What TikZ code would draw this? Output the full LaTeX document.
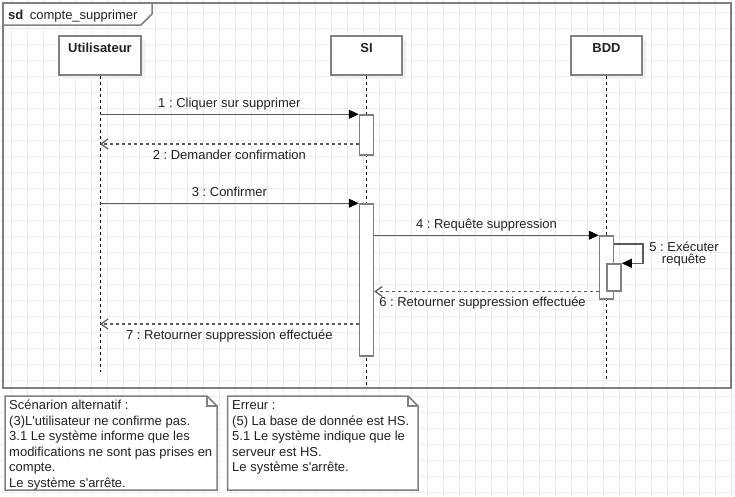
\documentclass[tikz,border=0pt]{standalone}
\usepackage{fontspec}
\setmainfont{Liberation Sans}[Ligatures=TeXOff]
\usetikzlibrary{arrows.meta,shadows}
\definecolor{gridgray}{HTML}{EDEDED}
\definecolor{linegray}{HTML}{808080}
\definecolor{msggray}{HTML}{5A5A5A}
\definecolor{txt}{HTML}{222222}
\newcommand{\diagfont}{\fontsize{13}{15.5}\selectfont\frenchspacing}
\tikzset{
  headbox/.style={draw=linegray, line width=1.5pt, fill=white, minimum width=#1, minimum height=39pt, inner sep=0pt,
    drop shadow={shadow xshift=4pt, shadow yshift=-4pt, fill=black!6, opacity=1}},
  headtext/.style={below=7.5pt, inner sep=0pt, text height=9.3pt, text depth=0pt, font=\diagfont\bfseries, text=txt},
  actbox/.style={draw=linegray, line width=1.5pt, fill=white, minimum width=14pt, minimum height=#1, inner sep=0pt},
  life/.style={draw=black, line width=0.8pt, dash pattern=on 3pt off 3pt},
  call/.style={draw=msggray, line width=1.3pt, -{Triangle[length=10pt,width=9pt,color=black]}},
  back/.style={draw=msggray, line width=1.2pt, dash pattern=on 3pt off 3pt, -{Straight Barb[length=7pt,width=10pt]}},
  lblabove/.style={above=6pt, inner sep=0pt, text height=9.3pt, text depth=0pt, text=txt},
  lblbelow/.style={below=5.5pt, inner sep=0pt, text height=9.3pt, text depth=0pt, text=txt},
  notebox/.style={draw=linegray, line width=1.5pt, fill=white},
  notetext/.style={anchor=north west, inner sep=0pt, align=left, text=txt},
  gridline/.style={draw=gridgray, line width=1pt}
}

\begin{document}
\begin{tikzpicture}[x=1pt, y=-1pt, font=\diagfont]
\useasboundingbox[fill=white] (0,0) rectangle (735,496);
% Grid
\foreach \gx in {11,27,...,731} \draw[gridline] (\gx,0) -- (\gx,496);
\foreach \gy in {12,28,...,492} \draw[gridline] (0,\gy) -- (735,\gy);

% Frame
\draw[draw=linegray, line width=1.5pt] (3,3) rectangle (731,388);
\draw[draw=linegray, line width=1.5pt, fill=white] (3,3) -- (152,3) -- (152,14) -- (141,25) -- (3,25) -- cycle;
\node[anchor=base west, inner sep=0pt, text=txt] (sdtitle) at (8,19.6) {\textbf{sd}\enspace compte\_supprimer};

% Lifelines
\node[headbox=82pt] (user) at (100,55.5) {};
\node[headbox=71pt] (si) at (366.5,55.5) {};
\node[headbox=71pt] (bdd) at (606.5,55.5) {};
\node[headtext] (usertxt) at (user.north) {Utilisateur};
\node[headtext] (sitxt) at (si.north) {SI};
\node[headtext] (bddtxt) at (bdd.north) {BDD};
\coordinate (userend) at (100,372);
\coordinate (siend) at (366.5,385);
\coordinate (bddend) at (606.5,379);
\draw[life] (user.south) -- (userend);
\draw[life] (si.south) -- (siend);
\draw[life] (bdd.south) -- (bddend);

% Activations
\node[actbox=40pt] (act1) at (366.5,135) {};
\node[actbox=152pt] (act2) at (366.5,280) {};
\node[actbox=63pt] (act3) at (606.5,267.5) {};
\node[actbox=27pt] (act4) at (614,277.5) {};

% Messages
\coordinate (r2) at (366.5,144);
\coordinate (self5) at (643,244);
\coordinate (r6) at (606.5,291.5);
\coordinate (r7) at (366.5,324);
\draw[call] (user |- act1.north) -- (act1.north west) node[midway, lblabove] {1 : Cliquer sur supprimer};
\draw[back] (act1.west |- r2) -- (user |- r2) node[midway, lblbelow] {2 : Demander confirmation};
\draw[call] (user |- act2.north) -- (act2.north west) node[midway, lblabove] {3 : Confirmer};
\draw[call] (act2.east |- act3.north) -- (act3.north west) node[midway, lblabove] {4 : Requête suppression};
\draw[call] (act3.east |- self5) -- (self5) |- (act4.north east);
\node[align=center, inner sep=0pt, text=txt, font=\fontsize{13}{12.5}\selectfont\frenchspacing] (lbl5) at (684,254) {5 : Exécuter\\requête};
\draw[back] (act3.west |- r6) -- (act2.east |- r6) node[midway, lblbelow, xshift=-4pt] {6 : Retourner suppression effectuée};
\draw[back] (act2.west |- r7) -- (user |- r7) node[midway, lblbelow] {7 : Retourner suppression effectuée};

% Notes
\draw[notebox] (5,396) -- (207,396) -- (217,406) -- (217,490) -- (5,490) -- cycle;
\draw[draw=linegray, line width=1.2pt] (207,396) -- (207,406) -- (217,406);
\node[notetext] (altnote) at (9,398.8) {\strut Scénarion alternatif :\\(3)L'utilisateur ne confirme pas.\\3.1 Le système informe que les\\modifications ne sont pas prises en\\compte.\\Le système s'arrête.};
\draw[notebox] (227.5,396) -- (408,396) -- (418,406) -- (418,490) -- (227.5,490) -- cycle;
\draw[draw=linegray, line width=1.2pt] (408,396) -- (408,406) -- (418,406);
\node[notetext] (errnote) at (232,398.8) {\strut Erreur :\\(5) La base de donnée est HS.\\5.1 Le système indique que le\\serveur est HS.\\Le système s'arrête.};
\end{tikzpicture}
\end{document}
